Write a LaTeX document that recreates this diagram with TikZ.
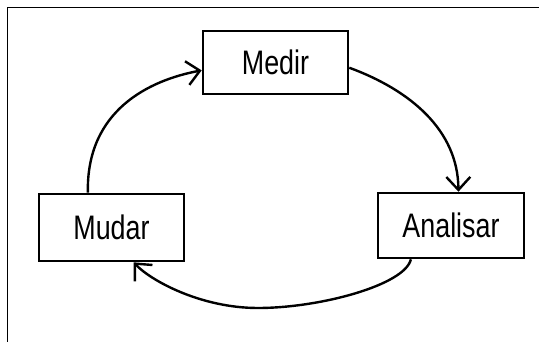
\documentclass[tikz,border=0pt]{standalone}
\usepackage{fontspec}
\setmainfont{Liberation Sans}
\newfontfamily\boxfont[FakeStretch=0.79]{Liberation Sans}
\usetikzlibrary{arrows.meta,calc}
\begin{document}
\begin{tikzpicture}[x=1pt,y=-1pt,
  stagebox/.style={draw,line width=2.6pt,minimum width=#1,inner sep=0pt,
    font=\boxfont\fontsize{34}{40}\selectfont},
  cycle/.style={line width=2.4pt,-{Straight Barb[length=13pt,width=24pt,line width=2.4pt]}}]
  \fill[white] (0,0) rectangle (539,342);
  \useasboundingbox (0,0) rectangle (539,342);
  % outer frame (left and top edges)
  \draw[line width=1.5pt] (7.5,342) -- (7.5,7.5) -- (539,7.5);
  % the three stages
  \node[stagebox=145pt,minimum height=63pt] (medir) at (275.5,62.5) {Medir};
  \node[stagebox=146pt,minimum height=65pt] (analisar) at (451,225.5) {Analisar};
  \node[stagebox=145pt,minimum height=67pt] (mudar) at (111.5,227.5) {Mudar};
  % cycle connectors
  \coordinate (bottom) at (258,308);
  \draw[cycle] ($(mudar.north west)!0.34!(mudar.north east)$)
    .. controls (86,110) and (150,80) .. ($(medir.north west)!0.62!(medir.south west)$);
  \draw[cycle] ($(medir.north east)!0.58!(medir.south east)$)
    .. controls (410,90) and (458,130) .. ($(analisar.north west)!0.55!(analisar.north east)$);
  \draw[cycle] ($(analisar.south west)!0.23!(analisar.south east)$)
    .. controls (405,285) and (320,308) .. (bottom)
    .. controls (200,308) and (150,280) .. ($(mudar.south west)!0.65!(mudar.south east)$);
\end{tikzpicture}
\end{document}
